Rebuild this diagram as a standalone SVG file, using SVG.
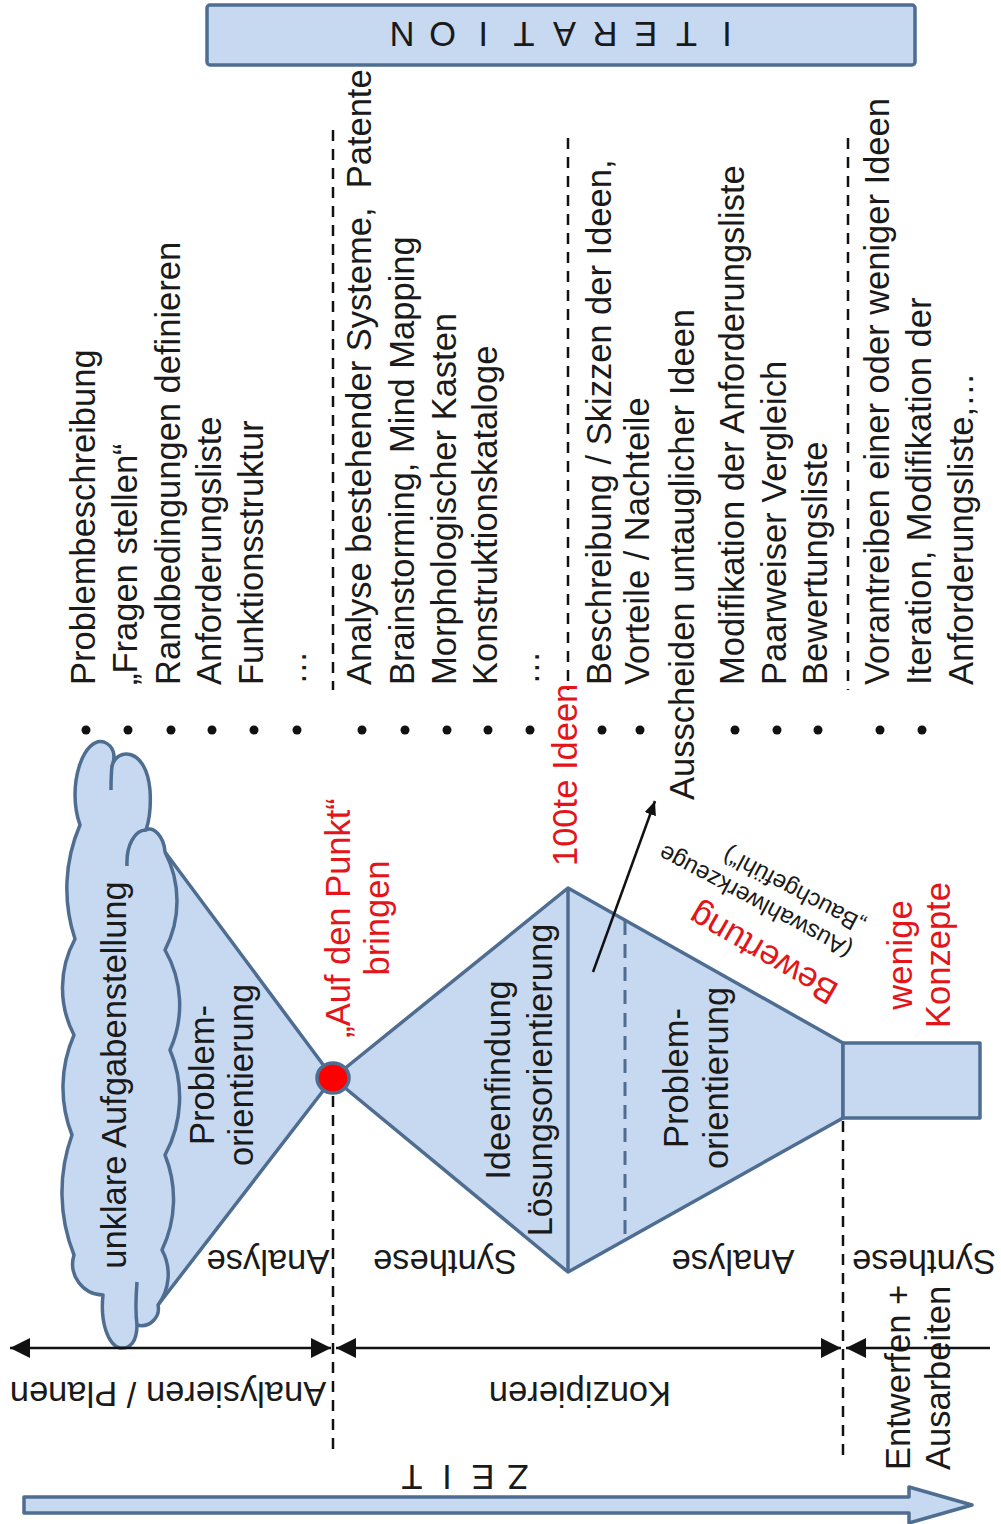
<svg xmlns="http://www.w3.org/2000/svg" width="1001" height="1524" viewBox="0 0 1001 1524">
<defs>
<style>
.t{font-family:"Liberation Sans",Arial,sans-serif;font-size:34.5px;fill:#1a1a1a}
.r{fill:#e3151b}
.s{font-size:24px}
.sh{fill:#c6d9f1;stroke:#4f6d91;stroke-width:3.5;stroke-linejoin:round}
.ln{fill:none;stroke:#4f6d91;stroke-width:3.5}
.dl{fill:none;stroke:#4f6d91;stroke-width:3;stroke-dasharray:14 9}
.dk{fill:none;stroke:#111;stroke-width:2.5;stroke-dasharray:11 8}
.ar{fill:none;stroke:#111;stroke-width:2.5}
.bu{fill:#111}
</style>
<marker id="ah" viewBox="0 0 20 20" refX="20" refY="10" markerWidth="20" markerHeight="20" markerUnits="userSpaceOnUse" orient="auto-start-reverse">
<path d="M0,0 L20,10 L0,20 z" fill="#111"/>
</marker>
<marker id="ah2" viewBox="0 0 14 12" refX="14" refY="6" markerWidth="14" markerHeight="12" markerUnits="userSpaceOnUse" orient="auto">
<path d="M0,0 L14,6 L0,12 z" fill="#111"/>
</marker>
</defs>
<rect width="1001" height="1524" fill="#fff"/>

<g id="iteration">
<rect x="207" y="5" width="708" height="60" rx="3" class="sh"/>
<g transform="translate(564.5,22) rotate(180)">
<text class="t" font-size="36" text-anchor="middle" x="-162.5 -121.9 -81.3 -40.6 0 40.6 81.3 121.9 162.5" y="0">ITERATION</text>
</g>
</g>

<g id="list1">
<circle class="bu" cx="86" cy="730" r="4.5"/><circle class="bu" cx="128" cy="730" r="4.5"/><circle class="bu" cx="171" cy="730" r="4.5"/>
<circle class="bu" cx="212" cy="730" r="4.5"/><circle class="bu" cx="254" cy="730" r="4.5"/><circle class="bu" cx="297" cy="730" r="4.5"/>
<text class="t" transform="translate(95,685) rotate(-90)">Problembeschreibung</text>
<text class="t" transform="translate(137,685) rotate(-90)">„Fragen stellen“</text>
<text class="t" transform="translate(180,685) rotate(-90)">Randbedingungen definieren</text>
<text class="t" transform="translate(221,685) rotate(-90)">Anforderungsliste</text>
<text class="t" transform="translate(263,685) rotate(-90)">Funktionsstruktur</text>
<text class="t" transform="translate(306,685) rotate(-90)">…</text>
</g>

<g id="list2">
<circle class="bu" cx="362" cy="730" r="4.5"/><circle class="bu" cx="405" cy="730" r="4.5"/><circle class="bu" cx="447" cy="730" r="4.5"/>
<circle class="bu" cx="488" cy="730" r="4.5"/><circle class="bu" cx="530" cy="730" r="4.5"/>
<text class="t" transform="translate(371,685) rotate(-90)" xml:space="preserve" style="white-space:pre">Analyse bestehender Systeme,  Patente</text>
<text class="t" transform="translate(414,685) rotate(-90)">Brainstorming, Mind Mapping</text>
<text class="t" transform="translate(456,685) rotate(-90)">Morphologischer Kasten</text>
<text class="t" transform="translate(497,685) rotate(-90)">Konstruktionskataloge</text>
<text class="t" transform="translate(539,685) rotate(-90)">…</text>
</g>

<g id="list3">
<circle class="bu" cx="602" cy="730" r="4.5"/><circle class="bu" cx="640" cy="730" r="4.5"/><circle class="bu" cx="735" cy="730" r="4.5"/>
<circle class="bu" cx="777" cy="730" r="4.5"/><circle class="bu" cx="818" cy="730" r="4.5"/>
<text class="t" transform="translate(611,685) rotate(-90)">Beschreibung / Skizzen der Ideen,</text>
<text class="t" transform="translate(649,685) rotate(-90)">Vorteile / Nachteile</text>
<text class="t" transform="translate(694,800) rotate(-90)">Ausscheiden untauglicher Ideen</text>
<text class="t" transform="translate(744,685) rotate(-90)">Modifikation der Anforderungsliste</text>
<text class="t" transform="translate(786,685) rotate(-90)">Paarweiser Vergleich</text>
<text class="t" transform="translate(827,685) rotate(-90)">Bewertungsliste</text>
</g>

<g id="list4">
<circle class="bu" cx="880" cy="730" r="4.5"/><circle class="bu" cx="922" cy="730" r="4.5"/>
<text class="t" transform="translate(889,685) rotate(-90)">Vorantreiben einer oder weniger Ideen</text>
<text class="t" transform="translate(931,685) rotate(-90)">Iteration, Modifikation der</text>
<text class="t" transform="translate(973,685) rotate(-90)">Anforderungsliste,…</text>
</g>

<g id="triangle">
<polygon class="sh" points="165,852 333,1078 158,1305 120,1300 120,860"/>
</g>

<g id="cloud">
<path class="sh" d="M120 1348 C108 1345 100 1322 103 1295 A31 31 0 0 1 74 1255 A169 169 0 0 1 72 1135 A130 130 0 0 1 74 1035 A102 102 0 0 1 75 939 A160 160 0 0 1 80 825 C66 785 84 736 104 742 C114 746 116 756 112 766 C116 748 146 746 150 790 C151 805 150 818 146 830 C153 826 164 836 165 852 A106 106 0 0 1 165 950 A110 110 0 0 1 170 1050 A121 121 0 0 1 165 1155 A118 118 0 0 1 162 1250 A51 51 0 0 1 158 1305 A17 17 0 0 1 137 1325 C137 1342 130 1349 120 1348 Z"/>
<path class="ln" d="M127 866 C126 845 135 830 146 830 M137 1325 C135 1310 136 1295 137 1282 M112 766 C111 775 111 782 111 790"/>
<text class="t" text-anchor="middle" transform="translate(126,1075) rotate(-90)">unklare Aufgabenstellung</text>
<text class="t" text-anchor="middle" transform="translate(214,1075) rotate(-90)">Problem-</text>
<text class="t" text-anchor="middle" transform="translate(253,1075) rotate(-90)">orientierung</text>
</g>

<g id="funnel">
<polygon class="sh" points="333,1078 568,888 843,1043 843,1118 568,1272"/>
<line class="ln" x1="568" y1="888" x2="568" y2="1272"/>
<line class="dl" x1="625" y1="921" x2="625" y2="1239"/>
<text class="t" text-anchor="middle" transform="translate(510,1080) rotate(-90)">Ideenfindung</text>
<text class="t" text-anchor="middle" transform="translate(552,1080) rotate(-90)">Lösungsorientierung</text>
<text class="t" text-anchor="middle" transform="translate(688,1078) rotate(-90)">Problem-</text>
<text class="t" text-anchor="middle" transform="translate(728,1078) rotate(-90)">orientierung</text>
</g>

<g id="concepts">
<rect class="sh" x="843" y="1043" width="137" height="75"/>
</g>

<g id="point">
<ellipse cx="333" cy="1078" rx="16" ry="15" fill="#ff0000" stroke="#4f6d91" stroke-width="3.5"/>
</g>

<g id="labels">
<text class="t r" text-anchor="middle" transform="translate(350,918) rotate(-90)">„Auf den Punkt“</text>
<text class="t r" text-anchor="middle" transform="translate(389,918) rotate(-90)">bringen</text>
<text class="t r" transform="translate(577,866) rotate(-90)">100te Ideen</text>
<text class="t r" text-anchor="middle" transform="translate(769,944) rotate(210)">Bewertung</text>
<g transform="translate(854,945) rotate(208)">
<text class="t s">(Auswahlwerkzeuge</text>
<text class="t s" y="28">„Bauchgefühl“)</text>
</g>
<text class="t r" text-anchor="middle" transform="translate(912,955) rotate(-90)">wenige</text>
<text class="t r" text-anchor="middle" transform="translate(950,955) rotate(-90)">Konzepte</text>
<text class="t" text-anchor="middle" transform="translate(268,1250) rotate(180)">Analyse</text>
<text class="t" text-anchor="middle" transform="translate(445,1250) rotate(180)">Synthese</text>
<text class="t" text-anchor="middle" transform="translate(733,1250) rotate(180)">Analyse</text>
<text class="t" text-anchor="middle" transform="translate(924,1250) rotate(180)">Synthese</text>
<text class="t" text-anchor="middle" transform="translate(168,1382) rotate(180)">Analysieren / Planen</text>
<text class="t" text-anchor="middle" transform="translate(580,1382) rotate(180)">Konzipieren</text>
<text class="t" transform="translate(910,1470) rotate(-90)">Entwerfen +</text>
<text class="t" transform="translate(950,1470) rotate(-90)">Ausarbeiten</text>
</g>

<g id="connectors">
<line class="dk" x1="333" y1="130" x2="333" y2="690"/>
<line class="dk" x1="568" y1="138" x2="568" y2="690"/>
<line class="dk" x1="848" y1="138" x2="848" y2="690"/>
<line class="dk" x1="333" y1="1096" x2="333" y2="1455"/>
<line class="dk" x1="843" y1="1121" x2="843" y2="1455"/>
<line class="ar" x1="10" y1="1348" x2="331" y2="1348" marker-start="url(#ah)" marker-end="url(#ah)"/>
<line class="ar" x1="336" y1="1348" x2="841" y2="1348" marker-start="url(#ah)" marker-end="url(#ah)"/>
<line class="ar" x1="846" y1="1348" x2="990" y2="1348" marker-start="url(#ah)"/>
<line class="ar" x1="593" y1="972" x2="655" y2="801" marker-end="url(#ah2)"/>
</g>

<g id="time">
<polygon class="sh" stroke-width="3" points="24,1497 909,1497 909,1487 972,1505 909,1523 909,1513 24,1513"/>
<g transform="translate(465,1465) rotate(180)">
<text class="t" font-size="35" text-anchor="middle" x="-53 -18 18 53" y="0">ZEIT</text>
</g>
</g>
</svg>
